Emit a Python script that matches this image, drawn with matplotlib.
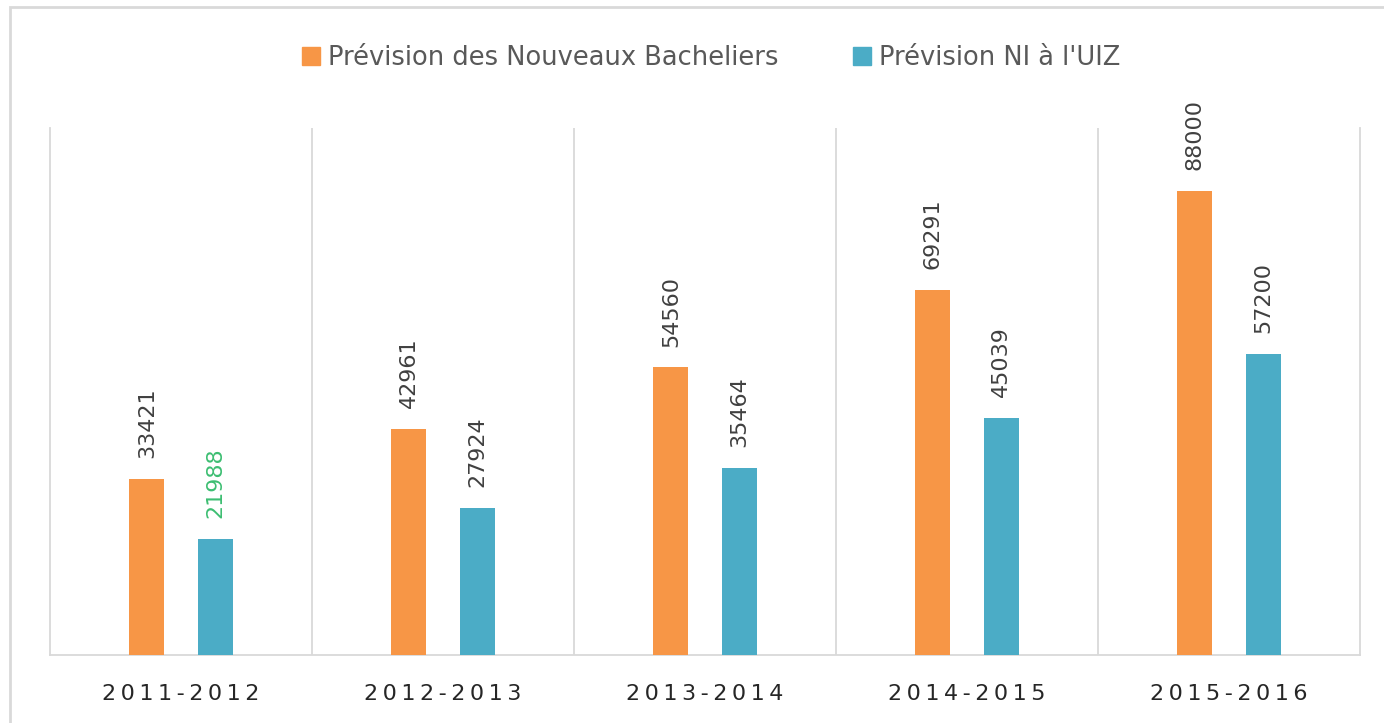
import matplotlib.pyplot as plt
import matplotlib.patches as mpatches
import numpy as np

# data
categories = ['2011-2012', '2012-2013', '2013-2014', '2014-2015', '2015-2016']
bacheliers = [33421, 42961, 54560, 69291, 88000]
ni_uiz = [21988, 27924, 35464, 45039, 57200]
series_names = ["Prévision des Nouveaux Bacheliers", "Prévision NI à l'UIZ"]

orange = '#F79646'
teal = '#4BACC6'
grid_col = '#D9D9D9'

plt.rcParams['font.family'] = ['DejaVu Sans']

fig = plt.figure(figsize=(13.84, 7.23), dpi=100)
ax = fig.add_axes([50/1384, 68/723, 1310/1384, 527/723])

x = np.arange(len(categories))
w = 0.134
b1 = ax.bar(x - 0.13, bacheliers, w, color=orange, label=series_names[0], zorder=3)
b2 = ax.bar(x + 0.13, ni_uiz, w, color=teal, label=series_names[1], zorder=3)

# value labels, rotated
for rect, v in zip(b1, bacheliers):
    ax.annotate(str(v), (rect.get_x() + rect.get_width()/2, v), xytext=(0, 15),
                textcoords='offset points', rotation=90, ha='center', va='bottom',
                fontsize=16, color='#404040')
for i, (rect, v) in enumerate(zip(b2, ni_uiz)):
    col = '#3DBE72' if i == 0 else '#404040'
    ax.annotate(str(v), (rect.get_x() + rect.get_width()/2, v), xytext=(0, 15),
                textcoords='offset points', rotation=90, ha='center', va='bottom',
                fontsize=16, color=col)

ax.set_xlim(-0.5, len(categories) - 0.5)
ax.set_ylim(0, 100000)
ax.set_yticks([])
ax.set_xticks(x)
ax.set_xticklabels(['\u2009'.join(c) for c in categories], fontsize=16,
                   color='#262626')
ax.tick_params(axis='x', length=0, pad=21)

# category separators
for s in np.arange(0.5, len(categories) - 0.5, 1):
    ax.axvline(s, color=grid_col, lw=1.3, zorder=1)

ax.spines['top'].set_visible(False)
for side in ['left', 'right', 'bottom']:
    ax.spines[side].set_color(grid_col)
    ax.spines[side].set_linewidth(1.3)

leg = fig.legend(handles=[mpatches.Patch(color=orange), mpatches.Patch(color=teal)],
                 labels=series_names, loc='center', bbox_to_anchor=(711/1384, 1 - 58/723),
                 ncol=2, frameon=False, fontsize=18.5, handlelength=0.7, handleheight=0.7,
                 handletextpad=0.3, columnspacing=2.9, labelcolor='#595959')

# outer chart border
fig.patches.append(mpatches.Rectangle((10/1384, -0.05), 1.1, 1 - 7/723 + 0.05,
                                      transform=fig.transFigure, fill=False,
                                      edgecolor='#D9D9D9', lw=2))

plt.savefig('out.png', dpi=100)
